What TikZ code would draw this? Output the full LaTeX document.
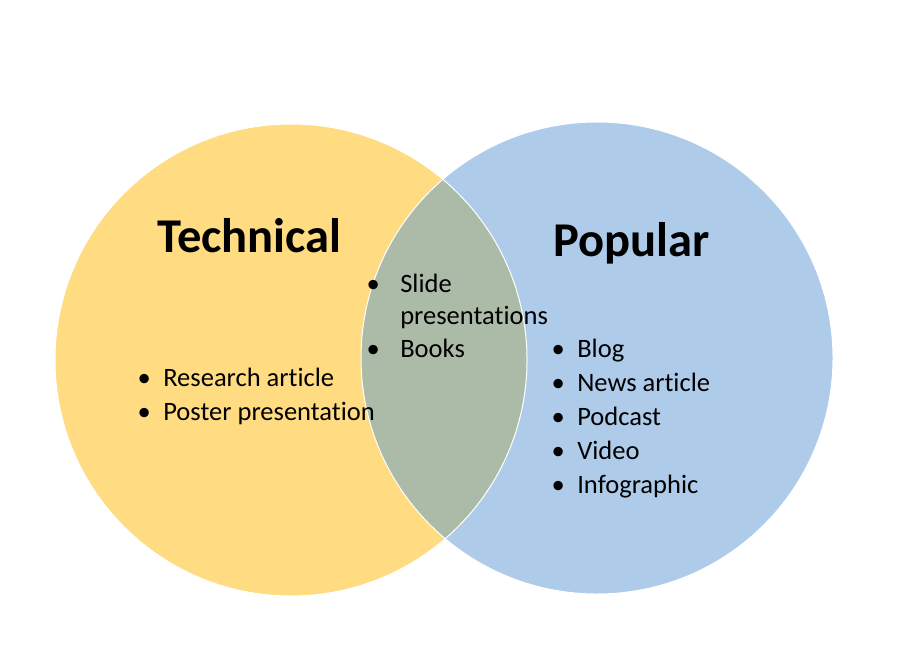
\documentclass[tikz,border=0pt]{standalone}
\usepackage{fontspec}
\setmainfont[Ligatures={NoCommon}]{Carlito}
\usetikzlibrary{positioning}
\definecolor{techyellow}{HTML}{FFDC82}
\definecolor{popblue}{HTML}{AECBEA}
\definecolor{bothgreen}{HTML}{ABBBA8}
\newcommand{\itm}[2][14.25pt]{\makebox[0pt]{\textbullet}\hspace{#1}#2}

\begin{document}
\begin{tikzpicture}[
  x=0.75pt, y=-0.75pt,
  set/.style={line width=0.75pt, draw=white},
  title/.style={anchor=base west, inner sep=0pt, font=\fontsize{36.4pt}{42pt}\selectfont\bfseries},
  items/.style={anchor=base west, inner sep=0pt, font=\fontsize{19.9pt}{25.5pt}\selectfont}
]
  \useasboundingbox (0,0) rectangle (905,656);
  \coordinate (ctech) at (291,360);
  \coordinate (cpop) at (597,358);

  % The two sets and their overlap
  \fill[techyellow] (ctech) circle[radius=177pt];
  \fill[popblue] (cpop) circle[radius=177pt];
  \begin{scope}
    \clip (ctech) circle[radius=177pt];
    \fill[bothgreen] (cpop) circle[radius=177pt];
  \end{scope}
  \path[set] (ctech) circle[radius=177pt];
  \path[set] (cpop) circle[radius=177pt];

  % Set titles
  \node[title] (tech) at (157,252) {Technical};
  \node[title] (pop) at (553,256) {Popular};

  % Items
  \node[items] (techlist) at (144,386) {\begin{tabular}[t]{@{}l@{}}
    \itm{Research article}\\
    \itm{Poster presentation}
  \end{tabular}};
  \node[items, font=\fontsize{19.9pt}{24.4pt}\selectfont] (bothlist) at (373,292) {\begin{tabular}[t]{@{}l@{}}
    \itm[20.25pt]{Slide}\\
    \hspace{20.25pt}presentations\\
    \itm[20.25pt]{Books}
  \end{tabular}};
  \node[items] (poplist) at (558,357) {\begin{tabular}[t]{@{}l@{}}
    \itm{Blog}\\
    \itm{News article}\\
    \itm{Podcast}\\
    \itm{Video}\\
    \itm{Infographic}
  \end{tabular}};
\end{tikzpicture}
\end{document}
